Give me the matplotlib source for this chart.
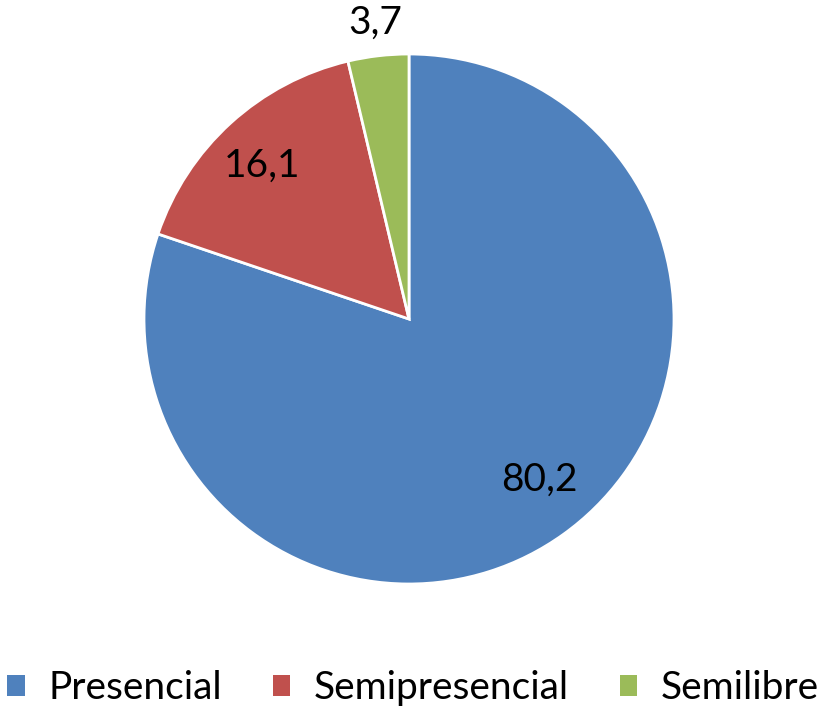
import numpy as np
import matplotlib
matplotlib.use("Agg")
import matplotlib.pyplot as plt
from matplotlib.patches import Patch

categories = ["Presencial", "Semipresencial", "Semilibre"]
values = [80.2, 16.1, 3.7]
labels = ["80,2", "16,1", "3,7"]
colors = ["#4F81BD", "#C0504D", "#9BBB59"]

# label layout (fraction of radius, angle nudge in degrees)
label_r = [0.78, 0.80, 1.125]
label_da = [3.5, 1.5, -0.2]

plt.rcParams['font.family'] = ['Lato', 'DejaVu Sans']

W, H = 821, 712
fig = plt.figure(figsize=(W / 100, H / 100), dpi=100)
cx, cy, R = 409, 319, 265
ax = fig.add_axes([(cx - R) / W, (H - cy - R) / H, 2 * R / W, 2 * R / H])

wedges, _ = ax.pie(values, colors=colors, startangle=90, counterclock=False,
                   radius=1.0,
                   wedgeprops=dict(edgecolor="white", linewidth=2.0))
ax.set_xlim(-1, 1)
ax.set_ylim(-1, 1)
ax.set_aspect("equal")
ax.axis("off")

for w, lab, r, da in zip(wedges, labels, label_r, label_da):
    ang = np.deg2rad((w.theta1 + w.theta2) / 2 + da)
    ax.text(r * np.cos(ang), r * np.sin(ang), lab, ha="center", va="center",
            fontsize=28, color="black", clip_on=False)

handles = [Patch(facecolor=c, edgecolor="none") for c in colors]
fig.legend(handles, categories, loc="center", bbox_to_anchor=(413 / W, 1 - 688 / H),
           ncol=3, frameon=False, fontsize=28, handlelength=0.45, handleheight=0.45,
           handletextpad=0.6, columnspacing=1.31, borderaxespad=0)

fig.savefig("out.png", dpi=100)
